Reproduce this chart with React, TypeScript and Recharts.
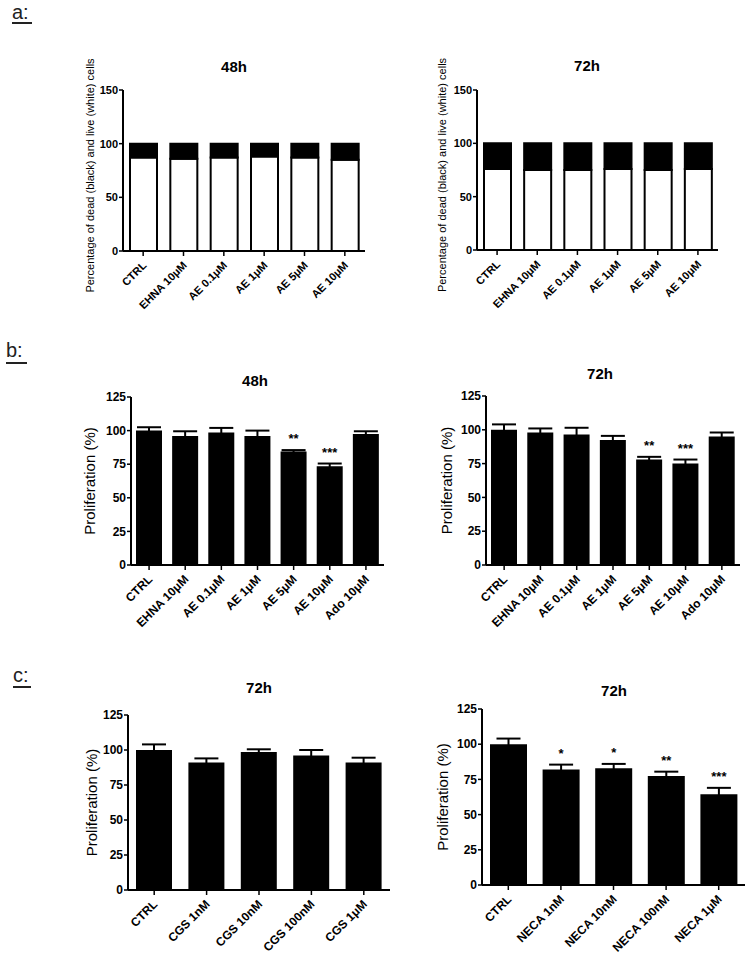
import React from "react";
import { BarChart, Bar, XAxis, YAxis, ErrorBar, LabelList } from "recharts";

// a: viability (live %, dead = remainder)
const viabilityCats = ["CTRL", "EHNA 10μM", "AE 0.1μM", "AE 1μM", "AE 5μM", "AE 10μM"];
const live48 = [87, 86, 87, 88, 87, 85];
const live72 = [76, 75, 75, 76, 75, 76];
const viabilityTicks = [0, 50, 100, 150];

// b: proliferation with AE
const prolifCats = ["CTRL", "EHNA 10μM", "AE 0.1μM", "AE 1μM", "AE 5μM", "AE 10μM", "Ado 10μM"];
const prolif48 = [100, 96, 98.5, 96, 84.5, 73.5, 97.5];
const prolif48Err = [2.5, 3.5, 3.5, 4, 1, 2, 2];
const prolif48Sig = ["", "", "", "", "**", "***", ""];
const prolif72 = [100, 98, 96.5, 92.5, 78, 75, 95];
const prolif72Err = [4, 3, 5, 3, 2, 3, 3];
const prolif72Sig = ["", "", "", "", "**", "***", ""];

// c: CGS and NECA
const cgsCats = ["CTRL", "CGS 1nM", "CGS 10nM", "CGS 100nM", "CGS 1μM"];
const cgsVals = [100, 91, 98.5, 96, 91];
const cgsErr = [4, 3, 2, 4, 3.5];
const cgsSig = ["", "", "", "", ""];
const necaCats = ["CTRL", "NECA 1nM", "NECA 10nM", "NECA 100nM", "NECA 1μM"];
const necaVals = [100, 82, 83, 77.5, 64.5];
const necaErr = [4, 3.5, 3, 3, 4.5];
const necaSig = ["", "*", "*", "**", "***"];
const prolifTicks = [0, 25, 50, 75, 100, 125];

const FONT = "'Liberation Sans', Arial, Helvetica, sans-serif";

const viabilityRows = (live: number[]) =>
  viabilityCats.map((cat, i) => ({ cat, live: live[i], dead: 100 - live[i] }));
const prolifRows = (cats: string[], vals: number[], errs: number[], sig: string[]) =>
  cats.map((cat, i) => ({ cat, val: vals[i], err: errs[i], sig: sig[i] }));

function XTick(props: any) {
  const { x, y, payload, fs } = props;
  const ax = x + 4;
  const ay = y + 8;
  return (
    <text x={ax} y={ay} transform={`rotate(-45 ${ax} ${ay})`} textAnchor="end"
      fontSize={fs} fontWeight="bold" fill="#000" fontFamily={FONT}>
      {payload.value}
    </text>
  );
}

function YTick(props: any) {
  const { x, y, payload, fs } = props;
  return (
    <text x={x} y={y} dy={fs * 0.35} textAnchor="end" fontSize={fs} fontWeight="bold"
      fill="#000" fontFamily={FONT}>
      {payload.value}
    </text>
  );
}

function YLabel(props: any) {
  const { viewBox, text, fs, gap, shift } = props;
  const cx = viewBox.x + viewBox.width - gap;
  const cy = viewBox.y + viewBox.height / 2 + shift;
  return (
    <text x={cx} y={cy} dy={fs * 0.35} transform={`rotate(-90 ${cx} ${cy})`} textAnchor="middle"
      fontSize={fs} fill="#000" fontFamily={FONT}>
      {text}
    </text>
  );
}

// stars sit above the error bar cap
const stars = (vals: number[], errs: number[]) => (p: any) => {
  const vb = p.viewBox ?? p;
  const { x, y, width, height } = vb;
  const i = p.index;
  if (!p.value || i == null) return null;
  const perUnit = height / vals[i];
  const capY = y - errs[i] * perUnit;
  return (
    <text x={x + width / 2} y={capY - 7} textAnchor="middle" fontSize={13} fontWeight="bold"
      fill="#000" fontFamily={FONT}>
      {p.value}
    </text>
  );
};

type Box = { l: number; t: number; w: number; h: number };
type Plot = { l: number; r: number; t: number; b: number };

function Panel(props: {
  box: Box; plot: Plot; data: any[]; yMax: number; ticks: number[];
  yLabel: string; yLabelFs: number; yLabelGap: number; yLabelShift: number;
  tickFs: number; xFs: number; children: React.ReactNode;
}) {
  const { box, plot, data, yMax, ticks, yLabel, yLabelFs, yLabelGap, yLabelShift, tickFs, xFs } = props;
  const YW = 40;
  const XH = 60;
  const margin = {
    left: plot.l - box.l - YW,
    right: box.l + box.w - plot.r,
    top: plot.t - box.t,
    bottom: box.t + box.h - plot.b - XH,
  };
  const axisLine = { stroke: "#000", strokeWidth: 2 };
  const tickLine = { stroke: "#000", strokeWidth: 1.5 };
  return (
    <div style={{ position: "absolute", left: box.l, top: box.t }}>
      <BarChart width={box.w} height={box.h} data={data} margin={margin} barCategoryGap={0}>
        <XAxis dataKey="cat" height={XH} interval={0} tickSize={5} tickMargin={2}
          axisLine={axisLine} tickLine={tickLine}
          tick={(p: any) => <XTick {...p} fs={xFs} />} />
        <YAxis width={YW} domain={[0, yMax]} ticks={ticks} interval={0} allowDataOverflow
          tickSize={4} tickMargin={1} axisLine={axisLine} tickLine={tickLine}
          tick={(p: any) => <YTick {...p} fs={tickFs} />}
          label={{
            content: (lp: any) => (
              <YLabel {...lp} text={yLabel} fs={yLabelFs} gap={yLabelGap} shift={yLabelShift} />
            ),
          }} />
        {props.children}
      </BarChart>
    </div>
  );
}

function viabilityBars() {
  return [
    <Bar key="live" dataKey="live" stackId="s" fill="#fff" stroke="#000" strokeWidth={2}
      barSize={27} isAnimationActive={false} />,
    <Bar key="dead" dataKey="dead" stackId="s" fill="#000" stroke="#000" strokeWidth={2}
      barSize={27} isAnimationActive={false} />,
  ];
}

function prolifBar(vals: number[], errs: number[], size: number) {
  return (
    <Bar dataKey="val" fill="#000" barSize={size} isAnimationActive={false}>
      <ErrorBar dataKey="err" width={12} stroke="#000" strokeWidth={2} direction="y"
        isAnimationActive={false} />
      <LabelList dataKey="sig" content={stars(vals, errs)} />
    </Bar>
  );
}

const viaLabel = "Percentage of dead (black) and live (white) cells";
const proLabel = "Proliferation (%)";

export default function App() {
  const titles = [
    { x: 234, y: 72, t: "48h" },
    { x: 587, y: 71, t: "72h" },
    { x: 255, y: 386, t: "48h" },
    { x: 600, y: 379, t: "72h" },
    { x: 259, y: 693, t: "72h" },
    { x: 614, y: 696, t: "72h" },
  ];
  const letters = [
    { x: 12, y: 19, u: 23, w: 20, t: "a:" },
    { x: 6, y: 357, u: 363, w: 21, t: "b:" },
    { x: 13, y: 682, u: 687, w: 18, t: "c:" },
  ];
  return (
    <div style={{ position: "absolute", left: 0, top: 0, width: 752, height: 961, background: "#fff", fontFamily: FONT }}>
      <Panel box={{ l: 0, t: 40, w: 376, h: 300 }} plot={{ l: 123, r: 365, t: 90, b: 251 }}
        data={viabilityRows(live48)} yMax={150} ticks={viabilityTicks}
        yLabel={viaLabel} yLabelFs={11} yLabelGap={33} yLabelShift={5} tickFs={11} xFs={11}>
        {viabilityBars()}
      </Panel>
      <Panel box={{ l: 376, t: 40, w: 376, h: 300 }} plot={{ l: 477, r: 718, t: 90, b: 250 }}
        data={viabilityRows(live72)} yMax={150} ticks={viabilityTicks}
        yLabel={viaLabel} yLabelFs={11} yLabelGap={35} yLabelShift={5} tickFs={11} xFs={11}>
        {viabilityBars()}
      </Panel>
      <Panel box={{ l: 0, t: 350, w: 392, h: 300 }} plot={{ l: 131, r: 384, t: 397, b: 565 }}
        data={prolifRows(prolifCats, prolif48, prolif48Err, prolif48Sig)} yMax={125} ticks={prolifTicks}
        yLabel={proLabel} yLabelFs={15} yLabelGap={41} yLabelShift={0} tickFs={12} xFs={12}>
        {prolifBar(prolif48, prolif48Err, 26)}
      </Panel>
      <Panel box={{ l: 376, t: 350, w: 376, h: 300 }} plot={{ l: 486, r: 740, t: 396, b: 565 }}
        data={prolifRows(prolifCats, prolif72, prolif72Err, prolif72Sig)} yMax={125} ticks={prolifTicks}
        yLabel={proLabel} yLabelFs={15} yLabelGap={39} yLabelShift={0} tickFs={12} xFs={12}>
        {prolifBar(prolif72, prolif72Err, 26)}
      </Panel>
      <Panel box={{ l: 0, t: 660, w: 400, h: 300 }} plot={{ l: 128, r: 390, t: 715, b: 890 }}
        data={prolifRows(cgsCats, cgsVals, cgsErr, cgsSig)} yMax={125} ticks={prolifTicks}
        yLabel={proLabel} yLabelFs={15} yLabelGap={36} yLabelShift={0} tickFs={12} xFs={12}>
        {prolifBar(cgsVals, cgsErr, 36)}
      </Panel>
      <Panel box={{ l: 376, t: 660, w: 376, h: 300 }} plot={{ l: 482, r: 745, t: 709, b: 885 }}
        data={prolifRows(necaCats, necaVals, necaErr, necaSig)} yMax={125} ticks={prolifTicks}
        yLabel={proLabel} yLabelFs={15} yLabelGap={39} yLabelShift={0} tickFs={12} xFs={12}>
        {prolifBar(necaVals, necaErr, 37)}
      </Panel>
      <svg width={752} height={961} style={{ position: "absolute", left: 0, top: 0, pointerEvents: "none" }}>
        {titles.map((d, i) => (
          <text key={i} x={d.x} y={d.y} textAnchor="middle" fontSize={15} fontWeight="bold" fill="#000" fontFamily={FONT}>
            {d.t}
          </text>
        ))}
        {letters.map((d, i) => (
          <g key={i}>
            <text x={d.x} y={d.y} fontSize={20} fill="#222" fontFamily={FONT}>{d.t}</text>
            <line x1={d.x} x2={d.x + d.w} y1={d.u} y2={d.u} stroke="#222" strokeWidth={2} />
          </g>
        ))}
      </svg>
    </div>
  );
}
